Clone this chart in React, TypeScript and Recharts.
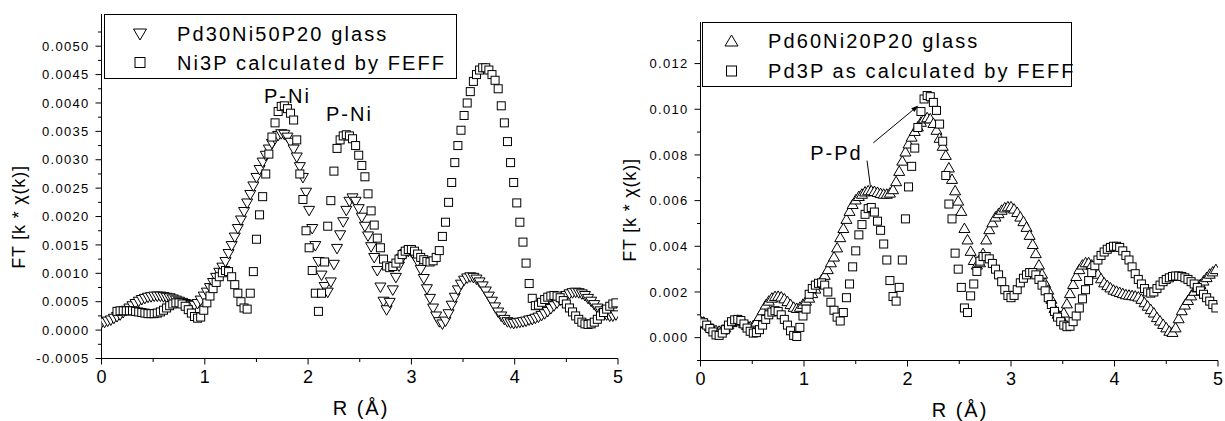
import React from 'react';
import { ScatterChart, Scatter, XAxis, YAxis, ReferenceDot, ReferenceLine } from 'recharts';

const FONT = '"Liberation Sans", Arial, Helvetica, sans-serif';

// R grid (Å), one value every 0.03 Å from 0 to 4.98
const R_STEP = 0.03;

// left panel, FT magnitude in units of 1e-4
const pd30Glass = [
  1.2, 1.3, 1.5, 1.7, 2.0, 2.3, 2.6, 3.0, 3.4, 3.8,
  4.2, 4.6, 5.0, 5.3, 5.5, 5.7, 5.8, 5.9, 5.9, 5.9,
  5.8, 5.7, 5.6, 5.4, 5.2, 5.0, 4.8, 4.6, 4.4, 4.3,
  4.3, 4.6, 5.2, 5.9, 6.6, 7.4, 8.3, 9.2, 10.1, 11.0,
  12.0, 13.4, 14.8, 16.3, 17.8, 19.3, 20.8, 22.3, 23.8, 25.3,
  26.8, 28.2, 29.5, 30.7, 31.8, 32.8, 33.6, 34.2, 34.5, 34.4,
  33.9, 33.0, 31.8, 30.4, 28.7, 26.8, 24.2, 21.0, 17.8, 14.8,
  12.0, 9.6, 7.6, 6.6, 8.4, 11.5, 14.3, 16.7, 19.0, 21.0,
  22.6, 23.2, 22.6, 21.3, 19.8, 18.2, 16.5, 14.6, 12.7, 10.4,
  7.5, 5.0, 3.5, 4.8, 7.0, 9.2, 11.2, 12.6, 13.4, 13.8,
  13.7, 13.0, 12.0, 10.6, 9.0, 7.2, 5.5, 3.8, 2.4, 1.4,
  1.0, 1.5, 2.8, 4.3, 5.7, 7.0, 8.0, 8.7, 9.1, 9.3,
  9.2, 8.9, 8.4, 7.7, 6.8, 5.9, 5.0, 4.0, 3.1, 2.4,
  1.8, 1.4, 1.2, 1.1, 1.2, 1.3, 1.4, 1.5, 1.7, 1.8,
  2.0, 2.2, 2.5, 2.8, 3.2, 3.7, 4.2, 4.7, 5.2, 5.6,
  6.0, 6.3, 6.5, 6.6, 6.5, 6.3, 6.0, 5.5, 5.0, 4.4,
  3.8, 3.3, 2.9, 2.6, 2.4, 2.4, 2.6,
];

const ni3pFeff = [
  null, null, null, null, null, 3.3, 3.4, 3.4, 3.4, 3.4,
  3.4, 3.3, 3.2, 3.1, 3.0, 2.9, 2.9, 2.9, 3.0, 3.2,
  3.5, 3.9, 4.3, 4.6, 4.8, 4.8, 4.6, 4.2, 3.6, 3.0,
  2.4, 2.1, 2.3, 3.5, 4.8, 6.0, 7.3, 8.4, 9.4, 10.1,
  10.5, 10.3, 9.4, 8.0, 6.5, 5.0, 3.9, 3.7, 6.5, 10.3,
  16.0, 20.3, 23.5, 27.5, 31.0, 34.0, 36.5, 38.5, 39.4, 39.5,
  39.0, 38.2, 37.0, 33.5, 27.5, 23.0, 17.5, 14.5, 10.5, 6.5,
  3.3, 6.5, 12.0, 18.3, 22.8, 28.0, 32.0, 33.5, 34.2, 34.4,
  34.2, 33.7, 32.5, 30.8, 29.0, 27.0, 24.0, 21.0, 18.5, 16.2,
  14.5, 12.5, 11.3, 11.0, 11.2, 11.8, 12.5, 13.3, 13.9, 14.2,
  14.2, 13.9, 13.4, 12.8, 12.4, 12.1, 12.0, 12.2, 12.8, 14.0,
  16.5, 19.0, 22.5, 26.0, 29.5, 32.5, 35.2, 37.8, 40.0, 42.0,
  43.8, 45.0, 45.8, 46.2, 46.2, 45.8, 45.0, 44.0, 42.5, 39.5,
  36.5, 33.2, 29.5, 26.0, 22.4, 19.0, 15.5, 11.8, 8.2, 5.6,
  4.3, 4.4, 4.9, 5.4, 5.8, 6.0, 6.1, 6.0, 5.7, 5.2,
  4.6, 3.9, 3.2, 2.5, 1.9, 1.4, 1.1, 1.0, 1.1, 1.4,
  1.9, 2.5, 3.1, 3.7, 4.2, 4.6, 4.8,
];

// right panel, FT magnitude in units of 1e-3
const pd60Glass = [
  0.75, 0.7, 0.62, 0.5, 0.4, 0.33, 0.3, 0.35, 0.45, 0.58,
  0.68, 0.75, 0.78, 0.75, 0.65, 0.55, 0.5, 0.55, 0.7, 0.95,
  1.2, 1.45, 1.62, 1.75, 1.82, 1.83, 1.8, 1.72, 1.6, 1.47,
  1.35, 1.3, 1.35, 1.48, 1.62, 1.75, 1.95, 2.15, 2.35, 2.55,
  2.75, 3.0, 3.3, 3.55, 3.95, 4.4, 4.8, 5.2, 5.55, 5.85,
  6.05, 6.2, 6.3, 6.4, 6.45, 6.45, 6.42, 6.38, 6.33, 6.3,
  6.3, 6.35, 6.5, 6.85, 7.3, 7.75, 8.15, 8.5, 8.8, 9.05,
  9.25, 9.45, 9.6, 9.65, 9.6, 9.4, 9.1, 8.75, 8.4, 8.0,
  7.45, 6.95, 6.45, 6.0, 5.55, 4.8, 4.3, 3.8, 3.4, 3.2,
  3.3, 3.7, 4.3, 4.75, 5.05, 5.3, 5.45, 5.6, 5.7, 5.75,
  5.75, 5.65, 5.5, 5.3, 5.1, 4.85, 4.5, 4.1, 3.7, 3.2,
  2.8, 2.4, 2.1, 1.7, 1.3, 1.05, 0.95, 1.1, 1.5, 1.95,
  2.35, 2.7, 3.0, 3.2, 3.3, 3.3, 3.2, 3.0, 2.8, 2.6,
  2.42, 2.3, 2.2, 2.1, 2.05, 2.0, 1.95, 1.9, 1.88, 1.86,
  1.84, 1.8, 1.7, 1.55, 1.4, 1.25, 1.1, 0.9, 0.75, 0.6,
  0.45, 0.3, 0.25, 0.45, 0.85, 1.2, 1.45, 1.65, 1.85, 2.05,
  2.2, 2.35, 2.5, 2.65, 2.8, 2.9, 3.0,
];

const pd3pFeff = [
  0.7, 0.65, 0.55, 0.4, 0.25, 0.12, 0.1, 0.2, 0.35, 0.55,
  0.7, 0.78, 0.8, 0.75, 0.6, 0.42, 0.28, 0.2, 0.22, 0.35,
  0.55, 0.8, 1.0, 1.12, 1.18, 1.15, 1.0, 0.8, 0.55, 0.3,
  0.1, 0.05, 0.45, 0.95, 1.25, 1.9, 2.15, 2.3, 2.38, 2.4,
  2.3, 2.0, 1.55, 1.2, 0.9, 0.73, 1.1, 1.75, 2.35, 3.1,
  3.8, 4.5, 4.95, 5.4, 5.65, 5.7, 5.5, 5.1, 4.7, 4.1,
  3.4, 2.5, 1.8, 1.6, 2.2, 3.4, 5.2, 6.6, 7.5, 8.3,
  9.2, 9.9, 10.45, 10.6, 10.55, 10.3, 9.95, 9.35, 8.6, 7.1,
  5.85, 5.2, 3.7, 3.0, 2.2, 1.3, 1.1, 1.83, 2.35, 2.9,
  3.35, 3.55, 3.55, 3.45, 3.25, 3.0, 2.75, 2.45, 2.1, 1.85,
  1.75, 1.85, 2.1, 2.4, 2.6, 2.75, 2.85, 2.85, 2.75, 2.55,
  2.3, 2.05, 1.75, 1.45, 1.15, 0.9, 0.7, 0.55, 0.48, 0.5,
  0.7, 0.95, 1.3, 1.7, 2.1, 2.5, 2.85, 3.15, 3.4, 3.6,
  3.75, 3.87, 3.95, 4.0, 4.0, 3.95, 3.8, 3.6, 3.4, 3.1,
  2.8, 2.55, 2.35, 2.15, 2.0, 1.95, 2.0, 2.15, 2.3, 2.45,
  2.55, 2.62, 2.68, 2.7, 2.7, 2.68, 2.62, 2.55, 2.45, 2.35,
  2.2, 2.05, 1.9, 1.75, 1.6, 1.45, 1.3,
];

const rTicks = [0, 0.5, 1, 1.5, 2, 2.5, 3, 3.5, 4, 4.5, 5];
const leftYTicks = [-5, -2.5, 0, 2.5, 5, 7.5, 10, 12.5, 15, 17.5, 20, 22.5, 25, 27.5, 30, 32.5, 35, 37.5, 40, 42.5, 45, 47.5, 50, 52.5];
const rightYTicks = [-1, 0, 1, 2, 3, 4, 5, 6, 7, 8, 9, 10, 11, 12, 13];

const toPoints = (arr: (number | null)[]) =>
  arr
    .map((v, i) => ({ x: +(i * R_STEP).toFixed(2), y: v }))
    .filter((p) => p.y !== null);

const near = (v: number, step: number) => Math.abs(v / step - Math.round(v / step)) < 1e-6;

const TriDown = ({ cx, cy }: any) => (
  <polygon
    points={`${cx - 5.5},${cy - 4.5} ${cx + 5.5},${cy - 4.5} ${cx},${cy + 5}`}
    fill="#fff"
    stroke="#000"
    strokeWidth={1}
  />
);

const TriUp = ({ cx, cy }: any) => (
  <polygon
    points={`${cx},${cy - 5} ${cx - 5.5},${cy + 4.5} ${cx + 5.5},${cy + 4.5}`}
    fill="#fff"
    stroke="#000"
    strokeWidth={1}
  />
);

const Square = ({ cx, cy }: any) => (
  <rect x={cx - 4} y={cy - 4} width={8} height={8} fill="#fff" stroke="#000" strokeWidth={1} />
);

const XTick = ({ x, y, payload }: any) => {
  const v = payload.value;
  const major = near(v, 1);
  return (
    <g>
      <line x1={x} y1={y} x2={x} y2={y + (major ? 6 : 3.5)} stroke="#000" />
      {major && (
        <text x={x} y={y + 12} dy="0.71em" textAnchor="middle" fontSize={18} fontFamily={FONT} fill="#000">
          {v}
        </text>
      )}
    </g>
  );
};

const makeYTick = (step: number, fmt: (v: number) => string, hideBelow: number) => ({ x, y, payload }: any) => {
  const v = payload.value;
  const major = near(v, step) && v >= hideBelow;
  return (
    <g>
      <line x1={x} y1={y} x2={x - (major ? 6 : 3.5)} y2={y} stroke="#000" />
      {major && (
        <text
          x={x - 12}
          y={y}
          dy="0.355em"
          textAnchor="end"
          fontSize={13}
          fontFamily={FONT}
          fill="#000"
          style={{ letterSpacing: '1.3px' }}
        >
          {fmt(v)}
        </text>
      )}
    </g>
  );
};

const LeftYTick = makeYTick(5, (v) => (v / 10000).toFixed(4), -5);
const RightYTick = makeYTick(2, (v) => (v / 1000).toFixed(3), 0);

const textStyle = { letterSpacing: '2px' };

const Label = (text: string) => (p: any) => (
  <text
    x={p.cx}
    y={p.cy}
    dy="0.355em"
    textAnchor="middle"
    fontSize={20}
    fontFamily={FONT}
    fill="#000"
    style={textStyle}
  >
    {text}
  </text>
);

const ArrowLine = (props: any) => {
  const { x1, y1, x2, y2 } = props;
  const a = Math.atan2(y2 - y1, x2 - x1);
  const L = 7;
  const W = 2.5;
  const bx = x2 - L * Math.cos(a);
  const by = y2 - L * Math.sin(a);
  const pts = `${x2},${y2} ${bx + W * Math.sin(a)},${by - W * Math.cos(a)} ${bx - W * Math.sin(a)},${by + W * Math.cos(a)}`;
  return (
    <g>
      <line x1={x1} y1={y1} x2={bx} y2={by} stroke="#000" strokeWidth={1} />
      <polygon points={pts} fill="#000" />
    </g>
  );
};

const PlainLine = (props: any) => (
  <line x1={props.x1} y1={props.y1} x2={props.x2} y2={props.y2} stroke="#000" strokeWidth={1} />
);

const yTitle = (x: number, y: number) => () => (
  <text
    x={x}
    y={y}
    transform={`rotate(-90 ${x} ${y})`}
    textAnchor="middle"
    dy="0.355em"
    fontSize={18}
    fontFamily={FONT}
    fill="#000"
    style={{ letterSpacing: '0.8px' }}
  >
    FT [k * χ(k)]
  </text>
);

const xTitle = (x: number, y: number) => () => (
  <text x={x} y={y} textAnchor="middle" fontSize={20} fontFamily={FONT} fill="#000" style={textStyle}>
    R (Å)
  </text>
);

type LegendItem = { label: string; symbol: 'down' | 'up' | 'square' };

const LegendBox = ({ left, top, width, height, symX, textX, rows, items }: any) => (
  <svg
    style={{ position: 'absolute', left, top, overflow: 'visible' }}
    width={width}
    height={height}
  >
    <rect x={0.5} y={0.5} width={width - 1} height={height - 1} fill="#fff" stroke="#000" strokeWidth={1} />
    {(items as LegendItem[]).map((it, i) => {
      const cy = rows[i];
      let sym;
      if (it.symbol === 'down')
        sym = <polygon points={`${symX - 6.5},${cy - 5} ${symX + 6.5},${cy - 5} ${symX},${cy + 6}`} fill="#fff" stroke="#000" />;
      else if (it.symbol === 'up')
        sym = <polygon points={`${symX},${cy - 6} ${symX - 6.5},${cy + 5} ${symX + 6.5},${cy + 5}`} fill="#fff" stroke="#000" />;
      else sym = <rect x={symX - 5} y={cy - 5} width={10} height={10} fill="#fff" stroke="#000" />;
      return (
        <g key={it.label}>
          {sym}
          <text x={textX} y={cy} dy="0.355em" fontSize={20} fontFamily={FONT} fill="#000" style={{ letterSpacing: '2.1px' }}>
            {it.label}
          </text>
        </g>
      );
    })}
  </svg>
);

export default function App() {
  const leftTri = toPoints(pd30Glass);
  const leftSq = toPoints(ni3pFeff);
  const rightTri = toPoints(pd60Glass);
  const rightSq = toPoints(pd3pFeff);

  return (
    <div style={{ position: 'absolute', left: 0, top: 0, width: 1225, height: 421, background: '#fff', overflow: 'hidden' }}>
      <div style={{ position: 'absolute', left: 0, top: 0 }}>
        <ScatterChart width={625} height={421} margin={{ top: 14, right: 7, bottom: 0, left: 0 }}>
          <XAxis
            type="number"
            dataKey="x"
            domain={[0, 5]}
            ticks={rTicks}
            interval={0}
            height={62.5}
            tickSize={0}
            tickMargin={0}
            tickLine={false}
            axisLine={{ stroke: '#000' }}
            tick={<XTick />}
            allowDataOverflow
            label={xTitle(361, 415)}
          />
          <YAxis
            type="number"
            dataKey="y"
            domain={[-5, 55.67]}
            ticks={leftYTicks}
            interval={0}
            width={101.5}
            tickSize={0}
            tickMargin={0}
            tickLine={false}
            axisLine={{ stroke: '#000' }}
            tick={<LeftYTick />}
            allowDataOverflow
            label={yTitle(19, 217)}
          />
          <Scatter data={leftTri} shape={<TriDown />} isAnimationActive={false} />
          <Scatter data={leftSq} shape={<Square />} isAnimationActive={false} />
          <ReferenceDot x={1.8} y={41.3} r={0} shape={Label('P-Ni')} />
          <ReferenceDot x={2.4} y={38.1} r={0} shape={Label('P-Ni')} />
        </ScatterChart>
      </div>

      <div style={{ position: 'absolute', left: 605, top: 0 }}>
        <ScatterChart width={620} height={421} margin={{ top: 22, right: 7, bottom: 0, left: 0 }}>
          <XAxis
            type="number"
            dataKey="x"
            domain={[0, 5]}
            ticks={rTicks}
            interval={0}
            height={60.5}
            tickSize={0}
            tickMargin={0}
            tickLine={false}
            axisLine={{ stroke: '#000' }}
            tick={<XTick />}
            allowDataOverflow
            label={xTitle(355, 417)}
          />
          <YAxis
            type="number"
            dataKey="y"
            domain={[-1, 13.82]}
            ticks={rightYTicks}
            interval={0}
            width={95.5}
            tickSize={0}
            tickMargin={0}
            tickLine={false}
            axisLine={{ stroke: '#000' }}
            tick={<RightYTick />}
            allowDataOverflow
            label={yTitle(25, 210)}
          />
          <Scatter data={rightTri} shape={<TriUp />} isAnimationActive={false} />
          <Scatter data={rightSq} shape={<Square />} isAnimationActive={false} />
          <ReferenceDot x={1.313} y={8.1} r={0} shape={Label('P-Pd')} />
          <ReferenceLine
            segment={[{ x: 1.67, y: 8.53 }, { x: 2.104, y: 10.16 }]}
            shape={ArrowLine}
          />
          <ReferenceLine
            segment={[{ x: 1.609, y: 7.75 }, { x: 1.641, y: 6.65 }]}
            shape={PlainLine}
          />
        </ScatterChart>
      </div>

      <LegendBox
        left={104}
        top={14}
        width={353}
        height={65}
        symX={36}
        textX={73}
        rows={[20, 48.5]}
        items={[
          { label: 'Pd30Ni50P20 glass', symbol: 'down' },
          { label: 'Ni3P calculated by FEFF', symbol: 'square' },
        ]}
      />
      <LegendBox
        left={702}
        top={22}
        width={370}
        height={65}
        symX={29.5}
        textX={66}
        rows={[19, 49]}
        items={[
          { label: 'Pd60Ni20P20 glass', symbol: 'up' },
          { label: 'Pd3P as calculated by FEFF', symbol: 'square' },
        ]}
      />
    </div>
  );
}
